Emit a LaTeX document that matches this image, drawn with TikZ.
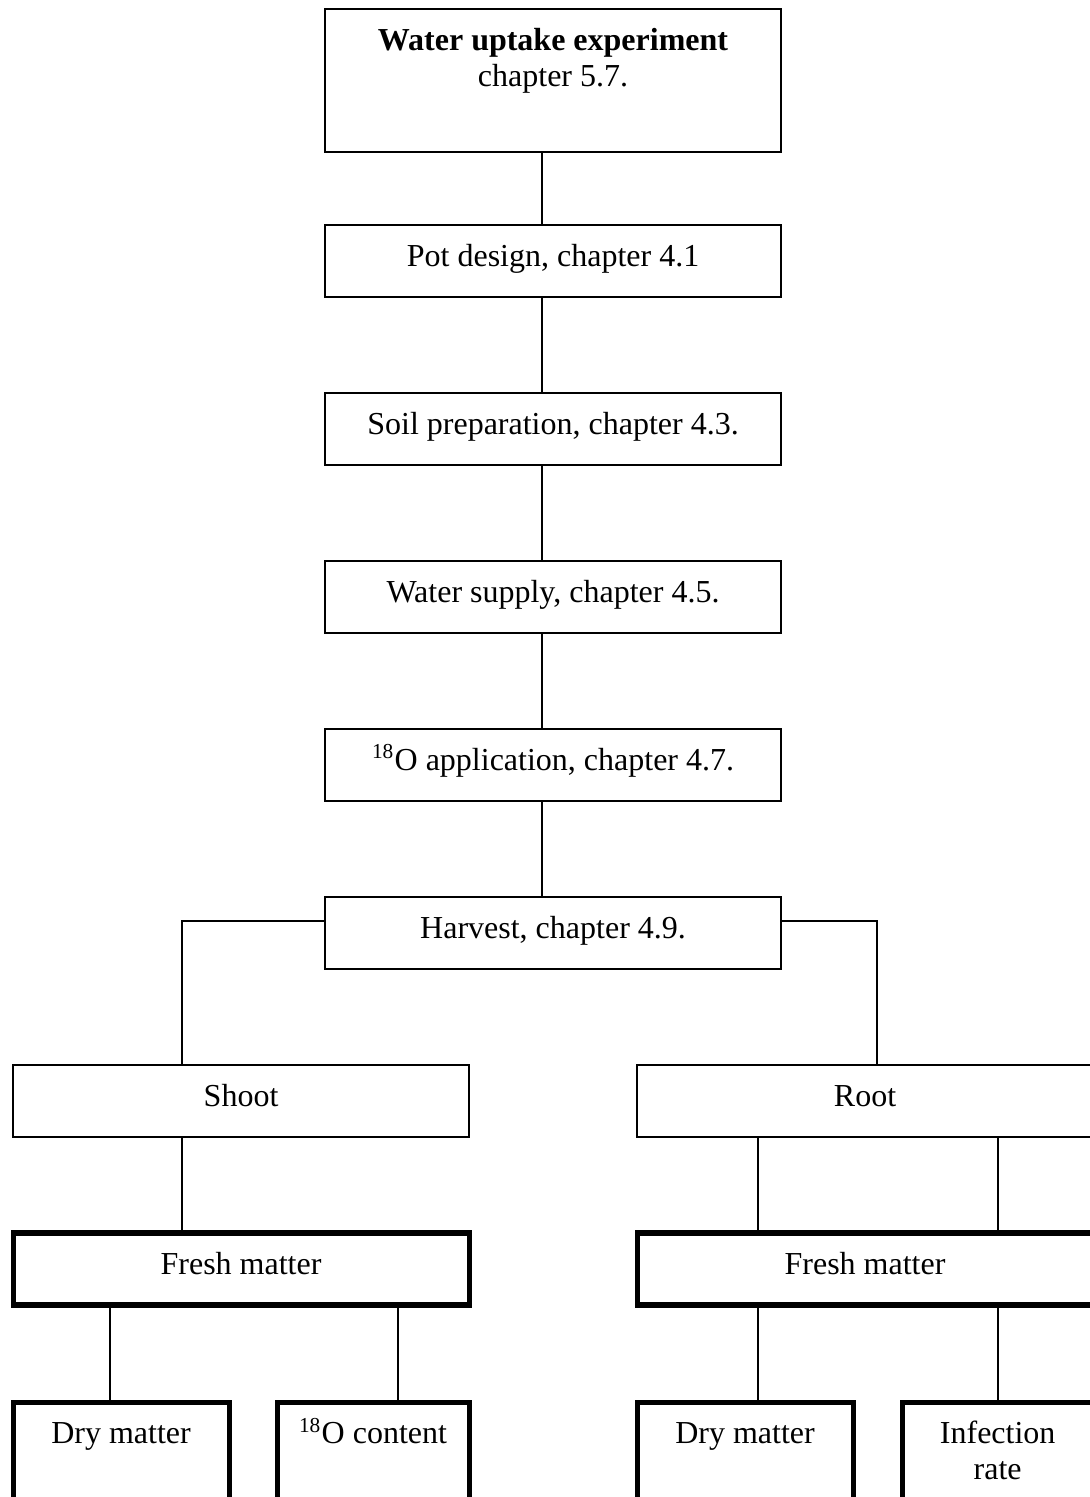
\documentclass[tikz,border=0pt]{standalone}
\usepackage{fontspec}
\setmainfont{Liberation Serif}
\usetikzlibrary{positioning,calc}

\begin{document}
\begin{tikzpicture}[node distance=36pt, line width=0.75pt,
    box/.style={draw, rectangle, inner sep=0pt, outer sep=0pt, minimum width=171pt,
        text height=15.5pt, text depth=11.5pt, align=center, font=\fontsize{12}{13.5}\selectfont},
    thickbox/.style={box, line width=1.9pt},
    leafbox/.style={thickbox, text depth=24.5pt}]
    \useasboundingbox (0,0) rectangle (408.4pt,-561.4pt);

    \coordinate (spine) at (203.1pt,0);
    \coordinate (xl) at (68.1pt,0);
    \coordinate (xr) at (329pt,0);
    \coordinate (xs1) at (41.3pt,0);
    \coordinate (xs2) at (149.1pt,0);
    \coordinate (xr1) at (284.4pt,0);
    \coordinate (xr2) at (374.4pt,0);

    \node [box, anchor=north west, text depth=38.1pt] (start) at (121.9pt,-3.4pt)
        {\begin{tabular}[t]{@{}c@{}}\textbf{Water uptake experiment}\\chapter 5.7.\end{tabular}};
    \node [box] (pot) [below=27.4pt of start] {Pot design, chapter 4.1};
    \node [box] (soil) [below=of pot] {Soil preparation, chapter 4.3.};
    \node [box] (water) [below=of soil] {Water supply, chapter 4.5.};
    \node [box] (oxy) [below=of water] {\textsuperscript{18}O application, chapter 4.7.};
    \node [box] (harvest) [below=of oxy] {Harvest, chapter 4.9.};

    \node [box] (shoot) [below=of harvest, xshift=-117pt] {Shoot};
    \node [box] (root) [below=of harvest, xshift=117pt] {Root};
    \node [thickbox] (freshS) [below=of shoot] {Fresh matter};
    \node [thickbox] (freshR) [below=of root] {Fresh matter};

    \node [leafbox, minimum width=81pt] (dryS) [below=36.5pt of freshS.south west, anchor=north west] {Dry matter};
    \node [leafbox, minimum width=72pt] (oxyS) [below=36.5pt of freshS.south east, anchor=north east] {\textsuperscript{18}O content};
    \node [leafbox, minimum width=81pt] (dryR) [below=36.5pt of freshR.south west, anchor=north west] {Dry matter};
    \node [leafbox, minimum width=71.5pt] (infR) [below=36.5pt of freshR.south east, anchor=north east]
        {\begin{tabular}[t]{@{}c@{}}Infection\\rate\end{tabular}};

    \foreach \a/\b in {start/pot, pot/soil, soil/water, water/oxy, oxy/harvest}
        \draw (\a.south -| spine) -- (\b.north -| spine);

    \draw ([yshift=-9pt]harvest.north west) -| (shoot.north -| xl);
    \draw ([yshift=-9pt]harvest.north east) -| (root.north -| xr);

    \draw (shoot.south -| xl) -- (freshS.north -| xl);
    \draw (root.south -| xr1) -- (freshR.north -| xr1);
    \draw (root.south -| xr2) -- (freshR.north -| xr2);

    \draw (freshS.south -| xs1) -- (dryS.north -| xs1);
    \draw (freshS.south -| xs2) -- (oxyS.north -| xs2);
    \draw (freshR.south -| xr1) -- (dryR.north -| xr1);
    \draw (freshR.south -| xr2) -- (infR.north -| xr2);
\end{tikzpicture}
\end{document}
